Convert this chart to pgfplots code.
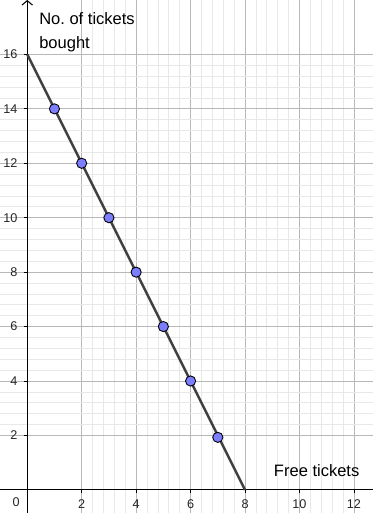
\documentclass[border=0pt]{standalone}
\usepackage{pgfplots}
\pgfplotsset{compat=1.18}
\usepackage{fontspec}
\setmainfont{Liberation Sans}
\usetikzlibrary{arrows.meta}
\definecolor{linec}{RGB}{64,64,64}
\definecolor{ptc}{RGB}{125,125,255}
\begin{document}
\begin{tikzpicture}
\begin{axis}[
 scale only axis, width=7.46cm, height=10.26cm,
 xmin=-1.0, xmax=12.7, ymin=-0.85, ymax=18.0,
 axis lines=middle,
 axis line style={black, line width=0.6pt},
 y axis line style={-{Straight Barb[length=2.5pt,width=6pt]}},
 x axis line style={-},
 xtick={2,4,...,12}, ytick={2,4,...,16},
 minor tick num=4,
 grid=both,
 major grid style={black!28, line width=0.5pt},
 minor grid style={black!9, line width=0.4pt},
 tick style={black, line width=0.5pt},
 tick align=outside,
 major tick length=2pt, minor tick length=0pt,
 ticklabel style={font=\fontsize{7.2}{8}\selectfont, text=black!85},
 /pgf/number format/assume math mode=true,
 clip=false,
]
\addplot[color=linec, line width=1.4pt] coordinates {(0,16) (8,0)};
\addplot[only marks, mark=*, mark size=2.9pt, mark options={fill=ptc, draw=black, line width=0.5pt}] coordinates {(1,14) (2,12) (3,10) (4,8) (5,6) (6,4) (7,1.93)};
\node[anchor=west, inner sep=0, font=\fontsize{9.4}{11}\selectfont] at (axis cs:9.05,0.7) {Free tickets};
\node[anchor=north west, align=left, inner sep=0, font=\fontsize{9.4}{13.8}\selectfont] at (axis cs:0.43,17.55) {No.\ of tickets\\bought};
\node[font=\fontsize{7.2}{8}\selectfont, text=black!85] at (axis cs:-0.41,-0.44) {0};
\end{axis}
\pgfresetboundingbox
\path (current axis.south west) rectangle (current axis.north east);
\end{tikzpicture}
\end{document}
